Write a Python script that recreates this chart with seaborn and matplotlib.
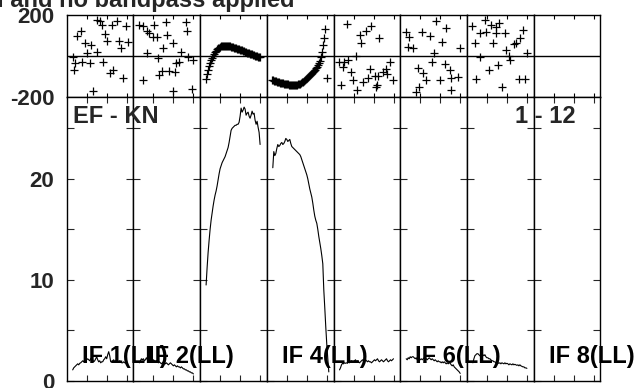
import numpy as np
import pandas as pd
import matplotlib
matplotlib.use("Agg")
import matplotlib.pyplot as plt
import seaborn as sns

sns.set_style("white")
plt.rcParams['font.family'] = ['Liberation Sans', 'DejaVu Sans']
plt.rcParams['font.weight'] = 'bold'

# ---------------- data ----------------
if_names = ["IF 1(LL)", "IF 2(LL)", "IF 3(LL)", "IF 4(LL)", "IF 5(LL)", "IF 6(LL)", "IF 7(LL)", "IF 8(LL)"]
shown_labels = ["IF 1(LL)", "IF 2(LL)", "IF 4(LL)", "IF 6(LL)", "IF 8(LL)"]
baseline_label = "EF - KN"
time_label = "1 - 12"
title_text = "I and no bandpass applied"

chan = list(range(6, 61))

amp_if1 = [1.1, 1.3, 1.4, 1.5, 1.6, 1.7, 1.6, 1.75, 1.8, 1.9, 2.0, 1.9, 2.1, 2.0, 2.1, 2.2, 2.1, 2.0, 2.2, 2.3,
           2.1, 1.9, 2.0, 2.2, 2.4, 2.1, 1.9, 2.0, 1.8, 1.9, 1.9, 2.1, 2.2, 2.4, 2.2, 2.6, 2.9, 2.5, 1.9, 1.9,
           2.0, 2.1, 1.9, 2.0, 2.1, 1.9, 1.9, 2.0, 1.9, 1.8, 1.8, 1.9, 1.8, 1.8, 1.7]
amp_if2 = [1.8, 2.0, 2.2, 2.1, 2.2, 2.0, 2.1, 2.3, 2.1, 2.0, 2.2, 2.1, 2.0, 1.9, 2.1, 2.0, 1.9, 2.0, 1.9, 1.8,
           1.9, 1.8, 1.7, 1.8, 1.9, 1.8, 1.7, 1.8, 1.7, 1.6, 1.7, 1.8, 1.7, 1.6, 1.5, 1.6, 1.5, 1.4, 1.5, 1.4,
           1.4, 1.3, 1.4, 1.3, 1.2, 1.2, 1.1, 1.1, 1.0, 1.0, 0.9, 0.9, 0.8, 0.8, 0.7]
amp_if3 = [9.5, 11.2, 12.7, 13.9, 15.0, 15.9, 16.6, 17.3, 17.9, 18.4, 18.8, 19.3, 19.9, 20.5, 21.0, 21.3, 21.6, 21.8,
           22.0, 22.2, 22.5, 22.8, 23.1, 23.6, 24.2, 24.8, 25.0, 25.1, 25.2, 25.3, 25.3, 25.4, 25.4, 25.6, 26.2,
           27.0, 26.6, 26.8, 27.1, 26.9, 26.3, 26.5, 26.6, 26.2, 26.0, 26.3, 26.7, 26.4, 26.5, 25.8, 25.4, 25.7,
           25.1, 24.6, 23.4]
chan_if4 = list(range(6, 63))
amp_if4 = [21.1, 22.7, 22.3, 22.5, 23.0, 23.4, 23.2, 23.3, 23.5, 23.6, 23.4, 23.5, 23.7, 24.0, 23.9, 23.7, 23.8,
           23.9, 23.5, 23.2, 23.1, 23.0, 22.9, 22.8, 22.7, 22.6, 22.5, 22.4, 22.2, 21.9, 21.6, 21.3, 21.0, 20.7,
           20.4, 20.0, 19.5, 19.0, 18.6, 18.2, 17.6, 16.9, 16.3, 15.9, 15.6, 15.0, 14.3, 13.7, 13.1, 12.4, 11.6,
           9.0, 7.2, 5.3, 3.6, 2.2, 0.9]
amp_if5 = [1.1, 1.3, 1.6, 1.75, 1.7, 1.8, 1.75, 1.8, 1.75, 1.9, 1.8, 1.9, 2.0, 1.9, 1.9, 2.0, 2.1, 1.9, 2.0, 1.9,
           1.8, 1.9, 2.0, 2.1, 2.0, 2.2, 2.1, 2.0, 1.9, 2.0, 1.9, 1.9, 1.8, 1.9, 2.0, 2.1, 2.0, 2.1, 2.2, 2.0,
           1.9, 2.0, 2.1, 2.0, 1.9, 2.0, 2.1, 2.2, 2.0, 1.9, 2.0, 2.1, 2.0, 2.1, 2.2]
amp_if6 = [2.2, 2.1, 2.3, 2.2, 2.4, 2.3, 2.4, 2.4, 2.3, 2.2, 2.3, 2.1, 2.2, 2.1, 2.1, 2.2, 2.1, 2.2, 2.3, 2.2,
           2.2, 2.1, 2.2, 2.3, 2.2, 2.1, 2.2, 2.1, 2.0, 2.1, 2.0, 1.9, 2.0, 1.9, 1.9, 1.8, 1.9, 1.8, 1.9, 1.8,
           1.7, 1.8, 1.7, 1.8, 1.75, 1.6, 1.5, 1.6, 1.4, 1.3, 1.2, 1.1, 1.0, 0.9, 0.75]
amp_if7 = [1.8, 2.2, 2.5, 2.6, 2.7, 2.7, 2.6, 2.5, 2.4, 2.5, 2.6, 2.5, 2.6, 2.4, 2.3, 2.3, 2.2, 2.2, 2.1, 2.0,
           2.0, 1.9, 1.9, 1.8, 1.9, 1.8, 1.75, 1.8, 1.7, 1.8, 1.75, 1.7, 1.8, 1.7, 1.75, 1.7, 1.6, 1.7, 1.65, 1.6,
           1.7, 1.6, 1.65, 1.6, 1.55, 1.6, 1.5, 1.6, 1.5, 1.45, 1.4, 1.4, 1.3, 1.3, 1.25]

ph_if1_ch = [30, 33.3, 35, 45.6, 50, 59.3, 14.3, 10.6, 38.3, 18.3, 24.3, 40.6, 52.6, 61, 54.3, 30, 20, 6, 15,
             8.3, 23.3, 36.7, 7.3, 46.7, 43.3, 56.7, 26.7]
ph_if1 = [177, 169, 152, 152, 172, 148, 120, 99, 108, 62, 54, 71, 75, 67, 38, 21, 13, -6, -28,
          -33, -33, -31, -69, -69, -85, -107, -172]
ph_if2_ch = [5.7, 10, 14, 16, 21, 32.7, 52.3, 53.3, 34, 19.3, 24, 39.3, 30, 14, 47.7, 55, 60, 24.3, 45.7,
             42.7, 28.3, 36, 41.7, 26, 10, 40, 58.3]
ph_if2 = [152, 144, 124, 111, 152, 164, 164, 124, 103, 92, 92, 62, 38, 16, 21, -6, -20, -8, -29,
          -33, -72, -72, -79, -92, -118, -172, -162]
ph_if3 = [-110, -90, -66, -48, -33, -20, -8, 2, 11, 19, 26, 32, 37, 41, 44, 47, 48, 50, 51, 51, 50, 50, 49,
          48, 47, 46, 44, 43, 41, 40, 38, 36, 35, 33, 31, 29, 27, 25, 23, 21, 19, 17, 15, 13, 11, 9, 8, 6, 4,
          2, 0, -1, -3, -5, -6]
ph_if4_ch = list(range(5, 59)) + [60]
ph_if4 = [-116, -118, -120, -122, -124, -126, -127, -129, -130, -132, -133, -134, -135, -136, -137, -138,
          -139, -140, -141, -141, -142, -142, -142, -142, -141, -140, -139, -137, -135, -132, -129, -126, -122,
          -118, -114, -109, -104, -99, -94, -89, -84, -79, -73, -67, -60, -52, -43, -34, -22, -5, 20, 54, 90,
          132, -109]
ph_if5_ch = [13.3, 37.7, 32.7, 26, 45.3, 27.7, 22, 5.3, 10, 14.3, 9.3, 56, 17.7, 36, 52.7, 49.3, 34.3, 41,
             44.3, 53.3, 59.3, 7.7, 19.3, 29.3, 23.3, 42.7, 43.7]
ph_if5 = [157, 148, 120, 103, 87, 62, 0, -28, -28, -20, -52, -31, -77, -61, -61, -77, -105, -98,
          -98, -89, -118, -143, -118, -126, -164, -151, -143]
ph_if6_ch = [36, 46, 5.3, 8.7, 22, 29.3, 42, 7.7, 12.7, 60, 33.7, 32, 17.7, 44.3, 49.3, 22.7, 26, 39.3,
             51, 57.7, 18.7, 16, 51]
ph_if6 = [169, 137, 115, 92, 118, 98, 67, 46, 38, 38, 13, -28, -58, -38, -69, -85, -118, -115,
          -108, -101, -151, -176, -164]
ph_if7_ch = [17.7, 23.7, 32, 5.3, 12.7, 19.3, 28.7, 37.7, 56, 29.3, 7.7, 26, 52.7, 48.7, 46.7, 39.3, 60,
             42, 43.3, 13.3, 31, 21.7, 9.3, 52, 57.7, 35.3]
ph_if7 = [174, 153, 161, 148, 112, 117, 112, 112, 128, 140, 62, 62, 87, 64, 57, 30, 16,
          0, -20, -6, -44, -69, -110, -110, -113, -151]

amp_data = [(chan, amp_if1), (chan, amp_if2), (chan, amp_if3), (chan_if4, amp_if4),
            (chan, amp_if5), (chan, amp_if6), (chan, amp_if7), None]
phase_pts = {0: (ph_if1_ch, ph_if1), 1: (ph_if2_ch, ph_if2), 2: (chan, ph_if3), 3: (ph_if4_ch, ph_if4),
             4: (ph_if5_ch, ph_if5), 5: (ph_if6_ch, ph_if6), 6: (ph_if7_ch, ph_if7)}

# ---------------- layout ----------------
W, H = 636, 388
fig = plt.figure(figsize=(W / 100, H / 100), dpi=100)

x0 = 66.7
pw = 66.7
ph_top, ph_bot = 15, 97
am_top, am_bot = 97, 381

def fx(px):
    return px / W

def fy(py):
    return 1 - py / H

tick_fs = 16
for i in range(8):
    left = fx(x0 + i * pw)
    axp = fig.add_axes([left, fy(ph_bot), fx(pw), (ph_bot - ph_top) / H])
    axa = fig.add_axes([left, fy(am_bot), fx(pw), (am_bot - am_top) / H])

    # phase panel
    if i in phase_pts:
        cx, cy = phase_pts[i]
        d = pd.DataFrame({"ch": cx, "ph": cy})
        sns.scatterplot(data=d, x="ch", y="ph", ax=axp, marker="+", color="black",
                        s=30, linewidth=0.9, legend=False)
    axp.axhline(0, color="black", lw=1.0)
    axp.set_xlim(0, pw)
    axp.set_ylim(-200, 200)
    axp.set_xticks([20, 40, 60])
    axp.tick_params(axis="x", direction="in", length=3, width=0.8, top=True, bottom=True,
                    labelbottom=False, colors="black")
    if i == 0:
        axp.set_yticks([-200, 200])
        axp.set_yticklabels(["-200", "200"], fontsize=tick_fs, fontweight="bold")
        axp.tick_params(axis="y", length=0, pad=9)
    else:
        axp.set_yticks([])
    axp.set_xlabel("")
    axp.set_ylabel("")

    # amplitude panel
    if amp_data[i] is not None:
        cx, cy = amp_data[i]
        d = pd.DataFrame({"ch": cx, "amp": cy})
        sns.lineplot(data=d, x="ch", y="amp", ax=axa, color="black", lw=0.8,
                     estimator=None, sort=False, legend=False)
    axa.set_xlim(0, pw)
    axa.set_ylim(0, 28.1)
    axa.set_xticks([20, 40, 60])
    axa.set_yticks([0, 5, 10, 15, 20, 25])
    axa.tick_params(axis="x", direction="in", length=4, width=0.8, top=True, bottom=True,
                    labelbottom=False)
    axa.tick_params(axis="y", direction="in", length=5, width=0.8, left=True, right=True,
                    pad=9)
    if i == 0:
        axa.set_yticklabels(["0", "", "10", "", "20", ""], fontsize=tick_fs, fontweight="bold")
    else:
        axa.tick_params(axis="y", labelleft=False)
    axa.set_xlabel("")
    axa.set_ylabel("")

    for ax in (axp, axa):
        ax.set_facecolor("white")
        for sp in ax.spines.values():
            sp.set_visible(True)
            sp.set_color("black")
            sp.set_linewidth(1.0)

    name = if_names[i]
    if name in shown_labels:
        fig.text(fx(x0 + i * pw + 15), fy(363), name, fontsize=17, fontweight="bold",
                 ha="left", va="baseline", color="black")

fig.text(fx(73), fy(123), baseline_label, fontsize=17, fontweight="bold", ha="left", va="baseline")
fig.text(fx(576), fy(123), time_label, fontsize=17, fontweight="bold", ha="right", va="baseline")
fig.text(fx(-3), fy(7), title_text, fontsize=17, fontweight="bold", ha="left", va="baseline")

fig.savefig("out.png", dpi=100, facecolor="white")
